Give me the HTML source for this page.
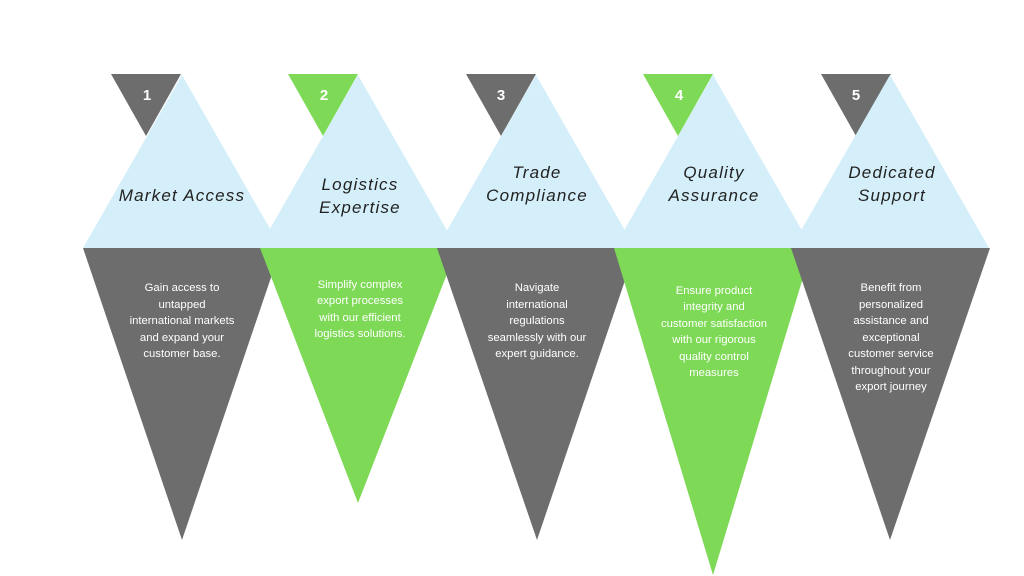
<!DOCTYPE html>
<html><head><meta charset="utf-8"><style>
html,body{margin:0;padding:0;background:#fff;}
svg{display:block;}
.t{font-family:"Liberation Sans",sans-serif;font-style:italic;font-size:17px;letter-spacing:1.2px;fill:#222;text-anchor:middle;}
.b{font-family:"Liberation Sans",sans-serif;font-size:11.3px;fill:#fff;text-anchor:middle;}
.n{font-family:"Liberation Sans",sans-serif;font-weight:bold;font-size:15px;fill:#fff;text-anchor:middle;}
</style></head><body>
<svg width="1024" height="576" viewBox="0 0 1024 576" xmlns="http://www.w3.org/2000/svg">
<!-- bottom triangles -->
<polygon points="83,248 281,248 182,540" fill="#6d6d6d"/>
<polygon points="260,248 457,248 358,503" fill="#7ed957"/>
<polygon points="437,248 636,248 537,540" fill="#6d6d6d"/>
<polygon points="614,248 812,248 713,575" fill="#7ed957"/>
<polygon points="791,248 990,248 890,540" fill="#6d6d6d"/>
<!-- number triangles -->
<polygon points="111,74 181,74 146,136" fill="#6d6d6d"/>
<polygon points="288,74 358,74 323,136" fill="#7ed957"/>
<polygon points="466,74 536,74 501,136" fill="#6d6d6d"/>
<polygon points="643,74 713,74 678,136" fill="#7ed957"/>
<polygon points="821,74 891,74 856,136" fill="#6d6d6d"/>
<!-- blue triangles -->
<polygon points="182,75 281,248 83,248" fill="#d4eff9"/>
<polygon points="358,75 457,248 259,248" fill="#d4eff9"/>
<polygon points="536,75 635,248 437,248" fill="#d4eff9"/>
<polygon points="713,75 812,248 614,248" fill="#d4eff9"/>
<polygon points="890,75 989,248 791,248" fill="#d4eff9"/>
<!-- numbers -->
<text class="n" x="147" y="100">1</text>
<text class="n" x="324" y="100">2</text>
<text class="n" x="501" y="100">3</text>
<text class="n" x="679" y="100">4</text>
<text class="n" x="856" y="100">5</text>
<!-- titles -->
<text class="t" x="182" y="201">Market Access</text>
<text class="t" x="360" y="190">Logistics</text>
<text class="t" x="360" y="213">Expertise</text>
<text class="t" x="537" y="178">Trade</text>
<text class="t" x="537" y="201">Compliance</text>
<text class="t" x="714" y="178">Quality</text>
<text class="t" x="714" y="201">Assurance</text>
<text class="t" x="892" y="178">Dedicated</text>
<text class="t" x="892" y="201">Support</text>
<!-- bodies -->
<text class="b" x="182" y="291">Gain access to</text>
<text class="b" x="182" y="308">untapped</text>
<text class="b" x="182" y="324">international markets</text>
<text class="b" x="182" y="341">and expand your</text>
<text class="b" x="182" y="357">customer base.</text>

<text class="b" x="360" y="288">Simplify complex</text>
<text class="b" x="360" y="304">export processes</text>
<text class="b" x="360" y="321">with our efficient</text>
<text class="b" x="360" y="337">logistics solutions.</text>

<text class="b" x="537" y="291">Navigate</text>
<text class="b" x="537" y="308">international</text>
<text class="b" x="537" y="324">regulations</text>
<text class="b" x="537" y="341">seamlessly with our</text>
<text class="b" x="537" y="357">expert guidance.</text>

<text class="b" x="714" y="294">Ensure product</text>
<text class="b" x="714" y="310">integrity and</text>
<text class="b" x="714" y="327">customer satisfaction</text>
<text class="b" x="714" y="343">with our rigorous</text>
<text class="b" x="714" y="360">quality control</text>
<text class="b" x="714" y="376">measures</text>

<text class="b" x="891" y="291">Benefit from</text>
<text class="b" x="891" y="308">personalized</text>
<text class="b" x="891" y="324">assistance and</text>
<text class="b" x="891" y="341">exceptional</text>
<text class="b" x="891" y="357">customer service</text>
<text class="b" x="891" y="374">throughout your</text>
<text class="b" x="891" y="390">export journey</text>
</svg>
</body></html>
